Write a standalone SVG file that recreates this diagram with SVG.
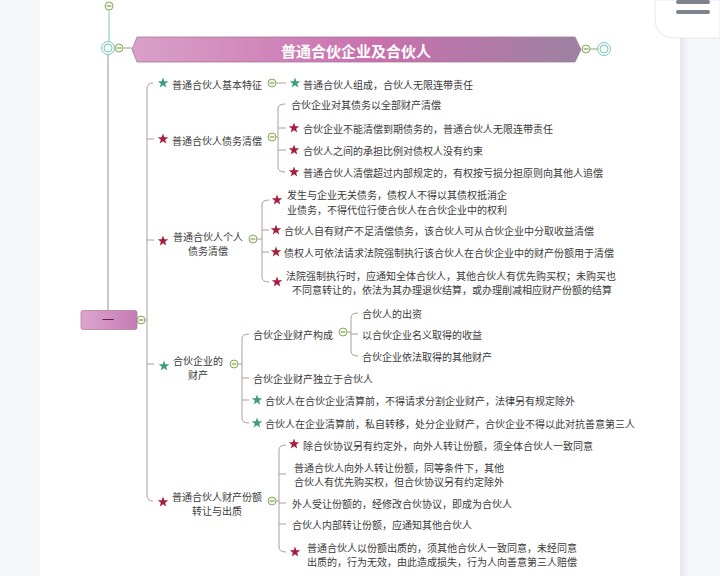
<svg xmlns="http://www.w3.org/2000/svg" width="720" height="576" viewBox="0 0 720 576">
<style>
.t{font-family:"Noto Sans CJK SC","Noto Sans",sans-serif;font-size:10px;fill:#3a3a3a;dominant-baseline:central}
.m{text-anchor:middle}
.br{fill:none;stroke:#a8a09c;stroke-width:1}
.mc{fill:#f6f9ea;stroke:#86aa62;stroke-width:1}
.ml{stroke:#6f9448;stroke-width:1}
.sr{fill:#a51f3c}
.sg{fill:#3f9c7c}
</style>
<defs>
<path id="star" d="M0,-5.5 L1.35,-1.86 L5.23,-1.7 L2.19,0.71 L3.23,4.45 L0,2.3 L-3.23,4.45 L-2.19,0.71 L-5.23,-1.7 L-1.35,-1.86 Z"/>
<g id="minus"><circle r="4" class="mc"/><line x1="-2.3" y1="0" x2="2.3" y2="0" class="ml"/></g>
<linearGradient id="gb" x1="0" y1="0" x2="1" y2="0">
<stop offset="0" stop-color="#d9a0c9"/><stop offset="0.55" stop-color="#c970ad"/><stop offset="1" stop-color="#9c82a2"/>
</linearGradient>
<linearGradient id="gx" x1="0" y1="0" x2="1" y2="0">
<stop offset="0" stop-color="#dca6cf"/><stop offset="1" stop-color="#c57bb2"/>
</linearGradient>
<linearGradient id="sh" x1="0" y1="0" x2="1" y2="0">
<stop offset="0" stop-color="#e4e6ec"/><stop offset="1" stop-color="#f3f5f9"/>
</linearGradient>
</defs>
<rect x="0" y="0" width="720" height="576" fill="#f5f7fb"/>
<rect x="40" y="0" width="640" height="576" fill="#ffffff"/>
<rect x="680" y="0" width="8" height="576" fill="url(#sh)"/>
<g id="menu-button">
<path d="M655,0 H720 V38 H675 Q655,38 655,18 Z" fill="#ffffff" stroke="#e6e8ee" stroke-width="1"/>
<rect x="676" y="0" width="34" height="4" rx="2" fill="#7d828c"/>
<rect x="676" y="10" width="34" height="4" rx="2" fill="#7d828c"/>
</g>

<g id="connectors">
<line x1="109" y1="10" x2="109" y2="41.5" stroke="#a6dbcf" stroke-width="1.5"/>
<line x1="108" y1="54.5" x2="108" y2="310" stroke="#c9c9cc" stroke-width="2"/>
<line x1="123" y1="48" x2="132" y2="48" stroke="#86aa62" stroke-width="1"/>
<line x1="590" y1="49" x2="597" y2="49" stroke="#86aa62" stroke-width="1"/>
<line x1="145" y1="320" x2="147" y2="320" class="br"/>
<path class="br" d="M153,83 Q147,83 147,89 V495 Q147,501 153,501 M147,139 H154 M147,240 H154 M147,364 H154"/>
<line x1="276" y1="83" x2="286" y2="83" class="br"/>
<line x1="276" y1="137" x2="278" y2="137" class="br"/>
<path class="br" d="M285,104 Q278,104 278,109 V167 Q278,172 285,172 M278,128 H286 M278,150 H286"/>
<line x1="257" y1="239" x2="262" y2="239" class="br"/>
<path class="br" d="M269,200 Q262,200 262,205 V277 Q262,282 269,282 M262,230 H269 M262,252 H269"/>
<line x1="238" y1="364" x2="242" y2="364" class="br"/>
<path class="br" d="M249,334 Q242,334 242,339 V418 Q242,423 249,423 M242,378 H249 M242,400 H249"/>
<line x1="347" y1="332" x2="351" y2="332" class="br"/>
<path class="br" d="M358,313 Q351,313 351,318 V351 Q351,356 358,356 M351,334 H358"/>
<line x1="276" y1="501" x2="279" y2="501" class="br"/>
<path class="br" d="M286,445 Q279,445 279,450 V547 Q279,552 286,552 M279,474 H286 M279,503 H286 M279,524 H286"/>
</g>

<g id="top-handle">
<use href="#minus" x="109" y="6"/>
<circle cx="108" cy="48" r="6.5" fill="#f4fbf9" stroke="#7fc9ba" stroke-width="1"/>
<circle cx="108" cy="48" r="4" fill="none" stroke="#7fc9ba" stroke-width="1"/>
<use href="#minus" x="119" y="48"/>
<use href="#minus" x="586" y="49"/>
<circle cx="604" cy="49" r="6.5" fill="#f4fbf9" stroke="#7fc9ba" stroke-width="1"/>
<circle cx="604" cy="49" r="4" fill="none" stroke="#7fc9ba" stroke-width="1"/>
</g>

<g id="title">
<polygon points="137,37 575,37 581,49.5 575,62 137,62 132,49.5" fill="url(#gb)" stroke="#a47a9c" stroke-width="0.8"/>
<text x="356" y="50" font-family="'Noto Sans CJK SC',sans-serif" font-size="15" font-weight="bold" fill="#ffffff" text-anchor="middle" dominant-baseline="central">普通合伙企业及合伙人</text>
</g>

<g id="root">
<rect x="81" y="310.5" width="56" height="19" rx="2" fill="url(#gx)" stroke="#b67aa6" stroke-width="0.8"/>
<text x="108" y="319.5" font-family="'Noto Sans CJK SC',sans-serif" font-size="12" fill="#5e1f48" text-anchor="middle" dominant-baseline="central">一</text>
<use href="#minus" x="141" y="320"/>
</g>

<g id="n1">
<use href="#star" class="sg" x="163" y="83"/>
<text class="t" x="172" y="84">普通合伙人基本特征</text>
<use href="#minus" x="272" y="83"/>
</g>
<g id="n1-1">
<use href="#star" class="sg" x="295" y="83"/>
<text class="t" x="303" y="84">普通合伙人组成，合伙人无限连带责任</text>
</g>

<g id="n2">
<use href="#star" class="sr" x="163" y="139"/>
<text class="t" x="172" y="140">普通合伙人债务清偿</text>
<use href="#minus" x="272" y="137"/>
</g>
<g id="n2-1"><text class="t" x="291" y="104">合伙企业对其债务以全部财产清偿</text></g>
<g id="n2-2"><use href="#star" class="sr" x="294" y="128"/><text class="t" x="303" y="128">合伙企业不能清偿到期债务的，普通合伙人无限连带责任</text></g>
<g id="n2-3"><use href="#star" class="sr" x="294" y="150"/><text class="t" x="303" y="150">合伙人之间的承担比例对债权人没有约束</text></g>
<g id="n2-4"><use href="#star" class="sr" x="294" y="172"/><text class="t" x="303" y="172">普通合伙人清偿超过内部规定的，有权按亏损分担原则向其他人追偿</text></g>

<g id="n3">
<use href="#star" class="sr" x="163" y="241"/>
<text class="t m" x="208" y="236.5">普通合伙人个人</text>
<text class="t m" x="208" y="250.5">债务清偿</text>
<use href="#minus" x="253" y="239"/>
</g>
<g id="n3-1"><use href="#star" class="sr" x="277" y="200"/>
<text class="t m" x="397" y="194">发生与企业无关债务，债权人不得以其债权抵消企</text>
<text class="t m" x="397" y="209">业债务，不得代位行使合伙人在合伙企业中的权利</text></g>
<g id="n3-2"><use href="#star" class="sr" x="276" y="230"/><text class="t" x="284" y="230">合伙人自有财产不足清偿债务，该合伙人可从合伙企业中分取收益清偿</text></g>
<g id="n3-3"><use href="#star" class="sr" x="276" y="252"/><text class="t" x="284" y="252">债权人可依法请求法院强制执行该合伙人在合伙企业中的财产份额用于清偿</text></g>
<g id="n3-4"><use href="#star" class="sr" x="277" y="282"/>
<text class="t m" x="451" y="275">法院强制执行时，应通知全体合伙人，其他合伙人有优先购买权；未购买也</text>
<text class="t m" x="452" y="289">不同意转让的，依法为其办理退伙结算，或办理削减相应财产份额的结算</text></g>

<g id="n4">
<use href="#star" class="sg" x="164" y="366"/>
<text class="t m" x="198" y="360.5">合伙企业的</text>
<text class="t m" x="198" y="374.5">财产</text>
<use href="#minus" x="234" y="364"/>
</g>
<g id="n4-1"><text class="t" x="253" y="334">合伙企业财产构成</text><use href="#minus" x="343" y="332"/></g>
<g id="n4-1-1"><text class="t" x="362" y="313">合伙人的出资</text></g>
<g id="n4-1-2"><text class="t" x="362" y="334">以合伙企业名义取得的收益</text></g>
<g id="n4-1-3"><text class="t" x="362" y="356">合伙企业依法取得的其他财产</text></g>
<g id="n4-2"><text class="t" x="253" y="378">合伙企业财产独立于合伙人</text></g>
<g id="n4-3"><use href="#star" class="sg" x="257" y="400"/><text class="t" x="265" y="400">合伙人在合伙企业清算前，不得请求分割企业财产，法律另有规定除外</text></g>
<g id="n4-4"><use href="#star" class="sg" x="257" y="423"/><text class="t" x="265" y="423">合伙人在企业清算前，私自转移，处分企业财产，合伙企业不得以此对抗善意第三人</text></g>

<g id="n5">
<use href="#star" class="sr" x="163" y="502"/>
<text class="t m" x="217" y="496.5">普通合伙人财产份额</text>
<text class="t m" x="217" y="510.5">转让与出质</text>
<use href="#minus" x="272" y="501"/>
</g>
<g id="n5-1"><use href="#star" class="sr" x="294" y="444"/><text class="t" x="303" y="445">除合伙协议另有约定外，向外人转让份额，须全体合伙人一致同意</text></g>
<g id="n5-2">
<text class="t" x="294" y="467.5">普通合伙人向外人转让份额，同等条件下，其他</text>
<text class="t" x="294" y="481.5">合伙人有优先购买权，但合伙协议另有约定除外</text></g>
<g id="n5-3"><text class="t" x="292" y="503">外人受让份额的，经修改合伙协议，即成为合伙人</text></g>
<g id="n5-4"><text class="t" x="292" y="524">合伙人内部转让份额，应通知其他合伙人</text></g>
<g id="n5-5"><use href="#star" class="sr" x="295" y="552"/>
<text class="t" x="307" y="547.5">普通合伙人以份额出质的，须其他合伙人一致同意，未经同意</text>
<text class="t" x="307" y="561.5">出质的，行为无效，由此造成损失，行为人向善意第三人赔偿</text></g>
</svg>
